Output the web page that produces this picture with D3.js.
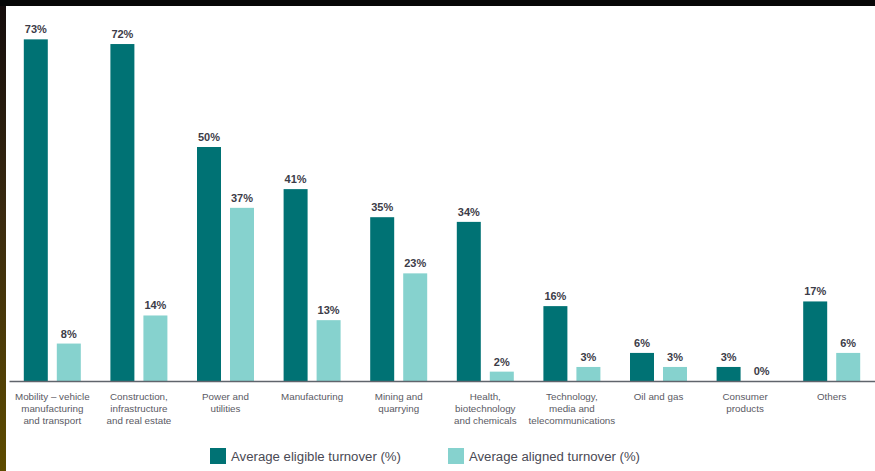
<!DOCTYPE html>
<html>
<head>
<meta charset="utf-8">
<script src="https://cdn.jsdelivr.net/npm/d3@7"></script>
<style>
  html, body { margin: 0; padding: 0; background: #fff; }
  svg { display: block; font-family: "Liberation Sans", Arial, sans-serif; }
</style>
</head>
<body>
<svg id="chart" width="875" height="471"></svg>
<script>
// Sector categories (multi-line labels)
const categories = [
  ["Mobility – vehicle", "manufacturing", "and transport"],
  ["Construction,", "infrastructure", "and real estate"],
  ["Power and", "utilities"],
  ["Manufacturing"],
  ["Mining and", "quarrying"],
  ["Health,", "biotechnology", "and chemicals"],
  ["Technology,", "media and", "telecommunications"],
  ["Oil and gas"],
  ["Consumer", "products"],
  ["Others"]
];
const seriesNames = ["Average eligible turnover (%)", "Average aligned turnover (%)"];
const eligible = [73, 72, 50, 41, 35, 34, 16, 6, 3, 17];
const aligned  = [8, 14, 37, 13, 23, 2, 3, 3, 0, 6];

const colors = ["#007274", "#86d2ce"];

const svg = d3.select("#chart");
const W = 875, H = 471;

// frame edges of the page
const defs = svg.append("defs");
const grad = defs.append("linearGradient").attr("id", "edge").attr("x1", 0).attr("y1", 0).attr("x2", 0).attr("y2", 1);
grad.append("stop").attr("offset", "0%").attr("stop-color", "#140c0c");
grad.append("stop").attr("offset", "45%").attr("stop-color", "#3a2a10");
grad.append("stop").attr("offset", "100%").attr("stop-color", "#5e4c00");
svg.append("rect").attr("x", 0).attr("y", 0).attr("width", 6).attr("height", H).attr("fill", "url(#edge)");
svg.append("rect").attr("x", 0).attr("y", 0).attr("width", W).attr("height", 6).attr("fill", "#070707");

const baseY = 381;
const x = d3.scaleBand().domain(d3.range(categories.length)).range([9, 875]).padding(0);
const xs = d3.scaleBand().domain([0, 1]).range([14.8, 71.8]).paddingInner(0.273);
const y = d3.scaleLinear().domain([0, 100]).range([baseY, baseY - 468]);

const series = [eligible, aligned];

const g = svg.append("g");
series.forEach((vals, si) => {
  g.selectAll(".bar" + si)
    .data(vals)
    .join("rect")
    .attr("x", (d, i) => x(i) + xs(si))
    .attr("y", d => y(d))
    .attr("width", xs.bandwidth())
    .attr("height", d => y(0) - y(d))
    .attr("fill", colors[si]);

  g.selectAll(".lab" + si)
    .data(vals)
    .join("text")
    .attr("x", (d, i) => x(i) + xs(si) + xs.bandwidth() / 2)
    .attr("y", d => y(d) - 6)
    .attr("text-anchor", "middle")
    .attr("font-size", 11)
    .attr("font-weight", 600)
    .attr("fill", "#3c3c48")
    .text(d => d + "%");
});

// baseline axis
const axis = d3.axisBottom(x).tickSize(0).tickFormat("");
const ax = svg.append("g").attr("transform", `translate(0,${baseY})`).call(axis);
ax.select(".domain").attr("stroke", "#60646c").attr("stroke-width", 1.5);

// category labels
const cl = svg.append("g");
categories.forEach((lines, i) => {
  const t = cl.append("text")
    .attr("text-anchor", "middle")
    .attr("font-size", 9.8)
    .attr("fill", "#5a5a64");
  lines.forEach((ln, k) => {
    t.append("tspan")
      .attr("x", x(i) + x.bandwidth() / 2)
      .attr("y", 400 + k * 12)
      .text(ln);
  });
});

// legend
const legendX = [210, 448];
const lg = svg.append("g");
seriesNames.forEach((name, si) => {
  lg.append("rect")
    .attr("x", legendX[si]).attr("y", 448)
    .attr("width", 16).attr("height", 16)
    .attr("fill", colors[si]);
  lg.append("text")
    .attr("x", legendX[si] + 21).attr("y", 461)
    .attr("font-size", 12.5)
    .attr("textLength", si === 0 ? 170 : 171)
    .attr("lengthAdjust", "spacingAndGlyphs")
    .attr("fill", "#4a4a54")
    .text(name);
});
</script>
</body>
</html>
